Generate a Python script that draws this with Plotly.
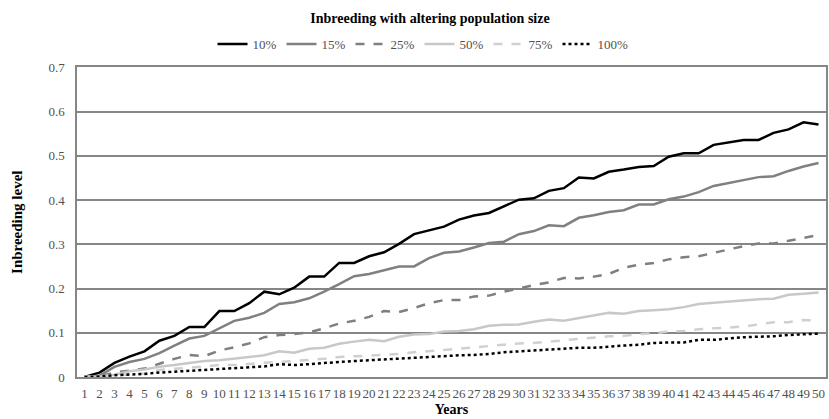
import plotly.graph_objects as go

years = [str(i) for i in range(1, 51)]

p10 = [0, 0.01, 0.032, 0.046, 0.058, 0.082, 0.093, 0.113, 0.113, 0.149,
       0.149, 0.167, 0.193, 0.187, 0.202, 0.227, 0.227, 0.258, 0.258, 0.273,
       0.282, 0.301, 0.323, 0.332, 0.34, 0.356, 0.365, 0.371, 0.386, 0.401,
       0.404, 0.421, 0.427, 0.451, 0.449, 0.464, 0.469, 0.475, 0.477, 0.498,
       0.506, 0.506, 0.525, 0.530, 0.536, 0.536, 0.552, 0.56, 0.576, 0.571]
p15 = [0, 0.003, 0.023, 0.034, 0.041, 0.054, 0.071, 0.087, 0.093, 0.110,
       0.127, 0.134, 0.145, 0.165, 0.169, 0.178, 0.193, 0.21, 0.228, 0.233,
       0.241, 0.25, 0.25, 0.269, 0.281, 0.284, 0.293, 0.303, 0.306, 0.323,
       0.33, 0.343, 0.341, 0.36, 0.366, 0.373, 0.377, 0.39, 0.39, 0.402,
       0.408, 0.418, 0.432, 0.439, 0.445, 0.452, 0.454, 0.466, 0.476, 0.484]
p25 = [0, 0.002, 0.01, 0.014, 0.019, 0.03, 0.041, 0.05, 0.047, 0.06,
       0.067, 0.076, 0.09, 0.095, 0.097, 0.101, 0.110, 0.121, 0.127, 0.136,
       0.149, 0.147, 0.156, 0.167, 0.174, 0.174, 0.182, 0.184, 0.193, 0.2,
       0.208, 0.214, 0.224, 0.223, 0.227, 0.233, 0.247, 0.254, 0.258, 0.266,
       0.271, 0.273, 0.281, 0.288, 0.296, 0.302, 0.302, 0.308, 0.314, 0.321]
p50 = [0, 0.001, 0.005, 0.013, 0.017, 0.023, 0.027, 0.032, 0.036, 0.038,
       0.041, 0.045, 0.049, 0.058, 0.055, 0.064, 0.066, 0.075, 0.08, 0.084,
       0.081, 0.091, 0.096, 0.097, 0.103, 0.104, 0.108, 0.116, 0.118, 0.119,
       0.125, 0.130, 0.127, 0.133, 0.138, 0.145, 0.143, 0.149, 0.151, 0.153,
       0.158, 0.165, 0.168, 0.171, 0.173, 0.176, 0.177, 0.186, 0.188, 0.191]
p75 = [0, 0.001, 0.003, 0.006, 0.008, 0.016, 0.018, 0.021, 0.024, 0.027,
       0.027, 0.03, 0.032, 0.034, 0.036, 0.039, 0.041, 0.045, 0.047, 0.049,
       0.05, 0.052, 0.056, 0.058, 0.061, 0.064, 0.067, 0.071, 0.073, 0.076,
       0.077, 0.08, 0.084, 0.086, 0.09, 0.092, 0.093, 0.097, 0.099, 0.103,
       0.104, 0.108, 0.11, 0.112, 0.114, 0.119, 0.124, 0.124, 0.129, 0.128]
p100 = [0, 0.001, 0.004, 0.005, 0.007, 0.01, 0.012, 0.014, 0.016, 0.019,
        0.02, 0.022, 0.024, 0.029, 0.027, 0.029, 0.032, 0.034, 0.036, 0.038,
        0.04, 0.041, 0.044, 0.045, 0.047, 0.049, 0.05, 0.052, 0.056, 0.058,
        0.06, 0.062, 0.064, 0.066, 0.066, 0.069, 0.071, 0.073, 0.077, 0.078,
        0.078, 0.084, 0.084, 0.087, 0.09, 0.091, 0.092, 0.095, 0.096, 0.098]

series = [
    ("10%", p10, "#000000", "solid"),
    ("15%", p15, "#808080", "solid"),
    ("25%", p25, "#7f7f7f", "dash"),
    ("50%", p50, "#c8c8c8", "solid"),
    ("75%", p75, "#d0d0d0", "dash"),
    ("100%", p100, "#000000", "dot"),
]

serif = "Liberation Serif, Times New Roman, serif"
label_grey = "#505050"

fig = go.Figure()
for name, vals, color, dash in series:
    fig.add_trace(go.Scatter(
        x=years, y=vals, name=name, mode="lines",
        line=dict(color=color, width=2.5, dash=dash),
    ))

fig.update_layout(
    width=829, height=419,
    margin=dict(l=77, r=1, t=62, b=42),
    paper_bgcolor="white", plot_bgcolor="white",
    font=dict(family=serif, size=13, color=label_grey),
    title=dict(
        text="<b>Inbreeding with altering population size</b>",
        x=430 / 829, xanchor="center", xref="container",
        y=1 - 18 / 419, yanchor="middle", yref="container",
        font=dict(family=serif, size=14, color="#000000"),
    ),
    legend=dict(
        orientation="h",
        xref="container", x=423 / 829, xanchor="center",
        yref="container", y=1 - 44 / 419, yanchor="middle",
        font=dict(family=serif, size=13, color=label_grey),
        itemwidth=30, tracegroupgap=0,
    ),
    showlegend=True,
)

fig.update_xaxes(
    type="category", range=[-0.5, 49.5],
    tickmode="array", tickvals=years, ticktext=years, tickangle=0,
    showgrid=False, showline=True, linecolor="#868686", linewidth=1.5,
    mirror=True, ticks="", ticklabelstandoff=4,
    tickfont=dict(family=serif, size=13, color=label_grey),
    title=dict(text="<b>Years</b>", font=dict(family=serif, size=14, color="#000000"),
               standoff=4),
)
fig.update_yaxes(
    range=[0, 0.7], dtick=0.1, tickformat="~g",
    showgrid=True, gridcolor="#868686", gridwidth=1.5,
    showline=True, linecolor="#868686", linewidth=1.5, mirror=True,
    zeroline=False, ticks="", ticklabelstandoff=8,
    tickfont=dict(family=serif, size=13, color=label_grey),
    title=dict(text="<b>Inbreeding level</b>", font=dict(family=serif, size=15, color="#000000"),
               standoff=22),
)

fig.write_html("out.html")
